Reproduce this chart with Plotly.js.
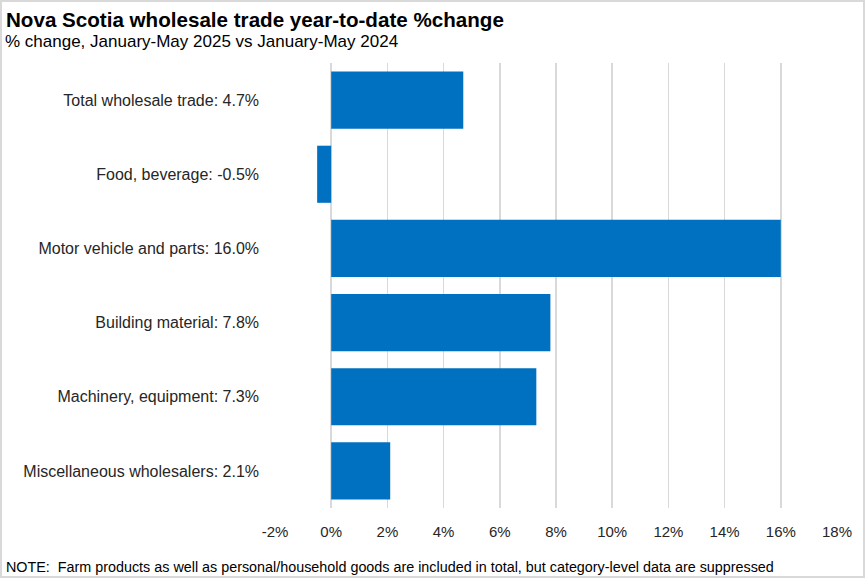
<!DOCTYPE html>
<html>
<head>
<meta charset="utf-8">
<script src="https://cdn.plot.ly/plotly-3.0.1.min.js"></script>
<style>
html,body{margin:0;padding:0;background:#fff;}
#wrap{position:relative;width:865px;height:578px;}
#plot{width:865px;height:578px;}
#frame{position:absolute;left:0;top:0;width:861px;height:574px;border:2px solid #d9d9d9;pointer-events:none;}
</style>
</head>
<body>
<div id="wrap"><div id="plot"></div><div id="frame"></div></div>
<script>
const categories = [
  "Total wholesale trade: 4.7%",
  "Food, beverage: -0.5%",
  "Motor vehicle and parts: 16.0%",
  "Building material: 7.8%",
  "Machinery, equipment: 7.3%",
  "Miscellaneous wholesalers: 2.1%"
];
const values = [4.7, -0.5, 16.0, 7.8, 7.3, 2.1];
const tickVals = [-2, 0, 2, 4, 6, 8, 10, 12, 14, 16, 18];
const tickText = ["-2%", "0%", "2%", "4%", "6%", "8%", "10%", "12%", "14%", "16%", "18%"];

const FONT = "Liberation Sans, Arial, sans-serif";

const trace = {
  type: "bar",
  orientation: "h",
  y: categories,
  x: values,
  marker: {color: "#0070C0"},
  hoverinfo: "x+y"
};

const layout = {
  width: 865,
  height: 578,
  margin: {l: 275, r: 28, t: 63, b: 70, pad: 0},
  paper_bgcolor: "#ffffff",
  plot_bgcolor: "#ffffff",
  bargap: 0.23,
  showlegend: false,
  font: {family: FONT, color: "#262626", size: 14},
  xaxis: {
    range: [-2, 18],
    tickvals: tickVals,
    ticktext: tickText,
    showgrid: true,
    gridcolor: "#d9d9d9",
    gridwidth: 1.5,
    zeroline: false,
    showline: false,
    ticks: "",
    ticklabelstandoff: 13,
    tickfont: {family: FONT, size: 15, color: "#262626"},
    fixedrange: true
  },
  yaxis: {
    autorange: "reversed",
    showgrid: false,
    zeroline: false,
    showline: false,
    ticks: "",
    ticklabelstandoff: 15,
    tickfont: {family: FONT, size: 16, color: "#262626"},
    fixedrange: true
  },
  annotations: [
    {
      xref: "paper", yref: "paper", x: -271/562, y: 1 + 44/445,
      xanchor: "left", yanchor: "middle", showarrow: false,
      text: "<b>Nova Scotia wholesale trade year-to-date %change</b>",
      font: {family: FONT, size: 20.6, color: "#000000"}
    },
    {
      xref: "paper", yref: "paper", x: -272/562, y: 1 + 21.5/445,
      xanchor: "left", yanchor: "middle", showarrow: false,
      text: "% change, January-May 2025 vs January-May 2024",
      font: {family: FONT, size: 17, color: "#000000"}
    },
    {
      xref: "paper", yref: "paper", x: -271/562, y: -58.5/445,
      xanchor: "left", yanchor: "middle", showarrow: false,
      text: "NOTE:&nbsp; Farm products as well as personal/household goods are included in total, but category-level data are suppressed",
      font: {family: FONT, size: 14.35, color: "#000000"}
    }
  ]
};

Plotly.newPlot("plot", [trace], layout, {displayModeBar: false, staticPlot: true});
</script>
</body>
</html>
